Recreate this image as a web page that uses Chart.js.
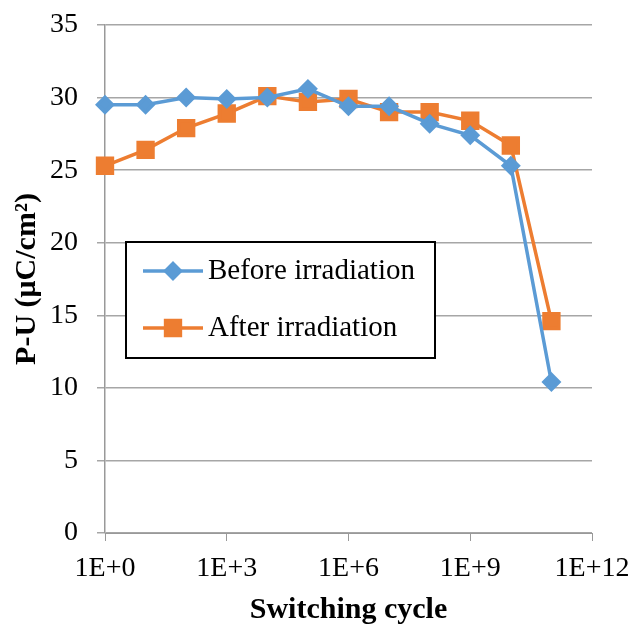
<!DOCTYPE html>
<html>
<head>
<meta charset="utf-8">
<script src="https://cdn.jsdelivr.net/npm/chart.js@4.4.1/dist/chart.umd.min.js"></script>
<style>
  html, body { margin: 0; padding: 0; background: #fff; }
  #wrap { width: 632px; height: 625px; }
</style>
</head>
<body>
<div id="wrap"><canvas id="puChart" width="632" height="625"></canvas></div>
<script>
// switching cycles, one point per decade
const cycles = [1, 1e1, 1e2, 1e3, 1e4, 1e5, 1e6, 1e7, 1e8, 1e9, 1e10, 1e11];
const beforeIrradiation = [29.5, 29.5, 30.0, 29.9, 30.0, 30.6, 29.4, 29.4, 28.2, 27.4, 25.3, 10.4];
const afterIrradiation = [25.3, 26.4, 27.9, 28.9, 30.1, 29.7, 29.9, 29.0, 29.0, 28.4, 26.7, 14.6];
const seriesNames = ['Before irradiation', 'After irradiation'];
const xTicks = [1, 1e3, 1e6, 1e9, 1e12];
const yTicks = [0, 5, 10, 15, 20, 25, 30, 35];

const BLUE = '#5b9bd5';
const ORANGE = '#ed7d31';
const SERIF = "'Liberation Serif', 'Times New Roman', serif";

function toPoints(values) {
  return cycles.map((c, i) => ({ x: c, y: values[i] }));
}

// boxed legend sitting inside the plot area
const boxLegend = {
  id: 'boxLegend',
  afterDraw(chart) {
    const { ctx, chartArea } = chart;
    const left = chartArea.left + 21;
    const top = chartArea.top + 217;
    const w = 309, h = 116;
    ctx.save();
    ctx.fillStyle = '#fff';
    ctx.fillRect(left, top, w, h);
    ctx.strokeStyle = '#000';
    ctx.lineWidth = 2;
    ctx.strokeRect(left, top, w, h);
    chart.data.datasets.forEach((ds, i) => {
      const y = top + 29 + i * 57;
      ctx.strokeStyle = ds.borderColor;
      ctx.lineWidth = 3.5;
      ctx.beginPath();
      ctx.moveTo(left + 17, y);
      ctx.lineTo(left + 77, y);
      ctx.stroke();
      Chart.helpers.drawPoint(ctx, {
        pointStyle: ds.pointStyle,
        radius: ds.pointRadius,
        borderWidth: 1
      }, left + 47, y);
      ctx.fillStyle = ds.pointBackgroundColor;
      ctx.fill();
      ctx.fillStyle = '#000';
      ctx.font = '29px ' + SERIF;
      ctx.textBaseline = 'middle';
      ctx.textAlign = 'left';
      ctx.fillText(ds.label, left + 82, y);
    });
    ctx.restore();
  }
};

new Chart(document.getElementById('puChart'), {
  type: 'line',
  data: {
    datasets: [
      {
        label: seriesNames[0],
        data: toPoints(beforeIrradiation),
        borderColor: BLUE,
        backgroundColor: BLUE,
        pointBackgroundColor: BLUE,
        pointBorderColor: BLUE,
        pointStyle: 'rectRot',
        pointRadius: 7.5,
        borderWidth: 3.5,
        tension: 0,
        clip: false
      },
      {
        label: seriesNames[1],
        data: toPoints(afterIrradiation),
        borderColor: ORANGE,
        backgroundColor: ORANGE,
        pointBackgroundColor: ORANGE,
        pointBorderColor: ORANGE,
        pointStyle: 'rect',
        pointRadius: 10.5,
        borderWidth: 3.5,
        tension: 0,
        clip: false
      }
    ]
  },
  options: {
    responsive: false,
    animation: false,
    devicePixelRatio: 1,
    layout: { padding: { top: 25, right: 40, left: 0, bottom: 0 } },
    plugins: {
      legend: { display: false },
      tooltip: { enabled: false }
    },
    scales: {
      x: {
        type: 'logarithmic',
        min: 1,
        max: 1e12,
        afterBuildTicks: s => { s.ticks = xTicks.map(v => ({ value: v })); },
        // fixed axis band; end labels may hang into the margins
        afterFit: s => { s.height = 92; s.paddingLeft = 0; s.paddingRight = 0; },
        ticks: {
          autoSkip: false,
          maxRotation: 0,
          padding: 11,
          color: '#000',
          font: { family: SERIF, size: 28 },
          callback: v => '1E+' + Math.round(Math.log10(v))
        },
        grid: { drawOnChartArea: false, drawTicks: true, tickLength: 8, color: '#999' },
        border: { color: '#999', width: 1 },
        title: {
          display: true,
          text: 'Switching cycle',
          color: '#000',
          font: { family: SERIF, size: 30, weight: 'bold', lineHeight: 1.0 },
          padding: { top: 0, bottom: 0 }
        }
      },
      y: {
        min: 0,
        max: 35,
        afterBuildTicks: s => { s.ticks = yTicks.map(v => ({ value: v })); },
        afterFit: s => { s.width = 105; s.paddingTop = 0; s.paddingBottom = 0; },
        ticks: {
          padding: 19,
          color: '#000',
          font: { family: SERIF, size: 28 }
        },
        grid: { color: '#a6a6a6', lineWidth: 1.5, tickLength: 8 },
        border: { color: '#999', width: 1.5 },
        title: {
          display: true,
          text: 'P-U (μC/cm²)',
          color: '#000',
          font: { family: SERIF, size: 30, weight: 'bold' },
          padding: { top: 9, bottom: 0 }
        }
      }
    }
  },
  plugins: [boxLegend]
});
</script>
</body>
</html>
